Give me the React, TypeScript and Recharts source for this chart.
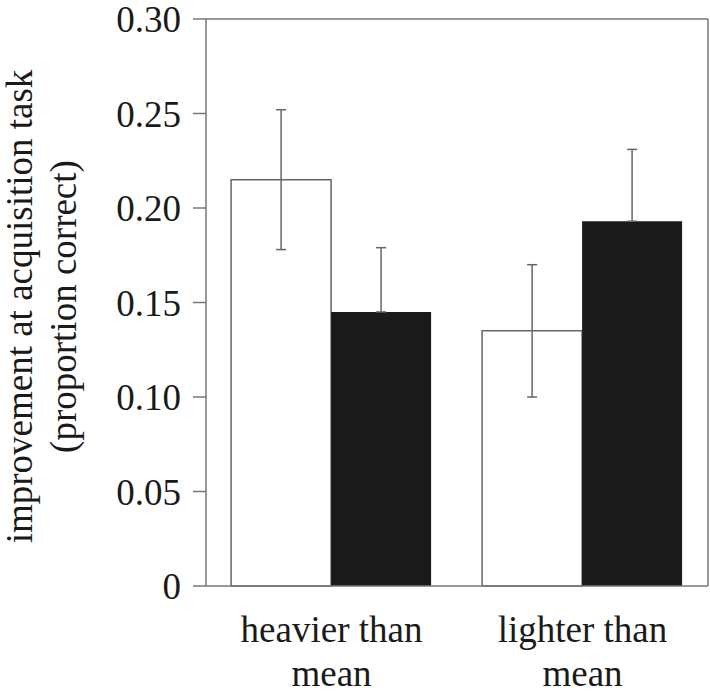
import React from "react";
import {
  BarChart,
  Bar,
  XAxis,
  YAxis,
  ErrorBar,
  ReferenceLine,
} from "recharts";

const categories = ["heavier than\nmean", "lighter than\nmean"];
const whiteValues = [0.215, 0.135];
const whiteErr = [0.037, 0.035];
const blackValues = [0.145, 0.193];
const blackErrUpper = [0.034, 0.038];
const yTicks = [0, 0.05, 0.1, 0.15, 0.2, 0.25, 0.3];
const edgeTicks = [0, 1, 2]; // group boundaries

const data = categories.map((name, i) => ({
  name,
  white: whiteValues[i],
  whiteErr: whiteErr[i],
  black: blackValues[i],
  // lower half is hidden inside the dark bar
  blackErr: [0, blackErrUpper[i]],
}));

const FONT = "'Liberation Serif', 'Times New Roman', serif";
const AXIS = "#777";
const INK = "#1a1a1a";

const CatTick = (props: any) => {
  const { x, y, payload } = props;
  const lines = String(payload.value).split("\n");
  return (
    <text x={x} y={y} textAnchor="middle" fontFamily={FONT} fontSize={37} fill={INK}>
      {lines.map((l, i) => (
        <tspan key={i} x={x} dy={i === 0 ? 55 : 44}>
          {l}
        </tspan>
      ))}
    </text>
  );
};

const YLabel = (props: any) => {
  const vb = props.viewBox || { x: 0, y: 19, width: 206, height: 567 };
  const cy = vb.y + vb.height / 2 + 4;
  return (
    <g fontFamily={FONT} fontSize={37} fill={INK}>
      <text transform={`translate(32,${cy}) rotate(-90)`} textAnchor="middle">
        improvement at acquisition task
      </text>
      <text transform={`translate(76,${cy}) rotate(-90)`} textAnchor="middle">
        (proportion correct)
      </text>
    </g>
  );
};

export default function App() {
  return (
    <div style={{ position: "absolute", left: 0, top: 0, background: "#fff" }}>
      <BarChart
        width={710}
        height={695}
        data={data}
        margin={{ top: 19, right: 1, bottom: 0, left: 0 }}
        barCategoryGap="10%"
        barGap={0}
      >
        <XAxis
          xAxisId="edges"
          type="number"
          domain={[0, 2]}
          allowDataOverflow
          ticks={edgeTicks}
          interval={0}
          tick={false}
          tickSize={12}
          height={1}
          axisLine={{ stroke: AXIS, strokeWidth: 1.5 }}
          tickLine={{ stroke: AXIS, strokeWidth: 1.5 }}
        />
        <XAxis
          xAxisId="groups"
          dataKey="name"
          height={108}
          axisLine={false}
          tickLine={false}
          tickSize={0}
          tickMargin={0}
          tick={<CatTick />}
          interval={0}
        />
        <YAxis
          domain={[0, 0.3]}
          ticks={yTicks}
          interval={0}
          width={206}
          tickSize={13}
          tickMargin={12}
          tickFormatter={(v: number) => (v === 0 ? "0" : v.toFixed(2))}
          tick={{ fontFamily: FONT, fontSize: 37, fill: INK }}
          axisLine={{ stroke: AXIS, strokeWidth: 1.5 }}
          tickLine={{ stroke: AXIS, strokeWidth: 1.5 }}
          label={<YLabel />}
        />
        <YAxis
          yAxisId="frame"
          orientation="right"
          width={1}
          domain={[0, 0.3]}
          tick={false}
          tickLine={false}
          axisLine={{ stroke: AXIS, strokeWidth: 1.5 }}
        />
        <ReferenceLine xAxisId="edges" y={0.3} stroke={AXIS} strokeWidth={1.5} ifOverflow="visible" />
        <Bar
          xAxisId="groups"
          dataKey="white"
          fill="#fff"
          stroke="#666"
          strokeWidth={1.5}
          isAnimationActive={false}
        >
          <ErrorBar dataKey="whiteErr" width={5} stroke="#666" strokeWidth={1.5} />
        </Bar>
        <Bar
          xAxisId="groups"
          dataKey="black"
          fill={INK}
          isAnimationActive={false}
        >
          <ErrorBar dataKey="blackErr" width={5} stroke="#666" strokeWidth={1.5} />
        </Bar>
      </BarChart>
    </div>
  );
}
